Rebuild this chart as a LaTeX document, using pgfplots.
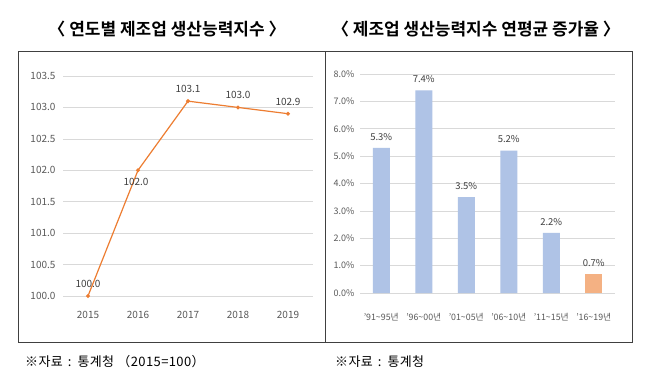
\documentclass[border=0pt]{standalone}
\usepackage{pgfplots}
\pgfplotsset{compat=1.18}
\usepackage{fontspec}
\setmainfont{Noto Sans CJK KR}
\newfontfamily\titlefont{Noto Sans CJK KR Bold}
\definecolor{lineor}{HTML}{ED7D31}
\definecolor{barblue}{HTML}{AFC3E6}
\definecolor{barorange}{HTML}{F4B183}
\definecolor{gridc}{HTML}{D9D9D9}
\definecolor{tickc}{HTML}{595959}
\definecolor{labc}{HTML}{404040}
\definecolor{framec}{HTML}{404040}
\begin{document}
\begin{tikzpicture}
\useasboundingbox (0pt,0pt) rectangle (647pt,380pt);
\fill[white] (0pt,0pt) rectangle (647pt,380pt);
% frames
\draw[framec, line width=1pt] (18pt,328pt) rectangle (325pt,38pt);
\draw[framec, line width=1pt] (325pt,328pt) rectangle (632pt,38pt);
% titles
\node[font=\titlefont\fontsize{17}{19}\selectfont, text=black] at (167pt,351pt) {〈 연도별 제조업 생산능력지수 〉};
\node[font=\titlefont\fontsize{17}{19}\selectfont, text=black] at (476pt,351pt) {〈 제조업 생산능력지수 연평균 증가율 〉};
% footnotes
\node[anchor=west, inner sep=0pt, font=\fontsize{13}{15}\selectfont\addfontfeature{LetterSpace=3}] at (25pt,18pt) {※자료\hspace{5pt}:\hspace{6pt}통계청 （2015=100）};
\node[anchor=west, inner sep=0pt, font=\fontsize{13}{15}\selectfont\addfontfeature{LetterSpace=3}] at (335pt,18pt) {※자료\hspace{5pt}:\hspace{6pt}통계청};
% left chart
\begin{axis}[
  at={(63pt,84pt)}, anchor=south west,
  scale only axis, width=250pt, height=220pt,
  xmin=2014.5, xmax=2019.5, ymin=100, ymax=103.5,
  axis line style={draw=none},
  ymajorgrids, grid style={gridc, line width=0.6pt},
  xtick={2015,2016,2017,2018,2019},
  ytick={100,100.5,...,103.5},
  tick style={draw=none},
  /pgf/number format/assume math mode=true,
  xticklabel style={/pgf/number format/1000 sep={}, font=\fontsize{10}{12}\selectfont, text=tickc, yshift=-12pt},
  yticklabel style={/pgf/number format/.cd, fixed, fixed zerofill, precision=1, /tikz/.cd, font=\fontsize{10}{12}\selectfont, text=tickc, xshift=-4pt},
  clip=false,
]
\addplot[lineor, line width=1.2pt, mark=*, mark size=1.3pt] coordinates {(2015,100.0)(2016,102.0)(2017,103.1)(2018,103.0)(2019,102.9)};
\addplot[draw=none, mark=none, nodes near coords={\pgfmathprintnumber[fixed,fixed zerofill,precision=1,assume math mode=true]{\pgfplotspointmeta}},
  nodes near coords style={font=\fontsize{10}{12}\selectfont, text=labc, anchor=south, yshift=5pt}]
  coordinates {(2015,100.0)(2017,103.1)(2018,103.0)(2019,102.9)};
\addplot[draw=none, mark=none, nodes near coords={\pgfmathprintnumber[fixed,fixed zerofill,precision=1,assume math mode=true]{\pgfplotspointmeta}},
  nodes near coords style={font=\fontsize{10}{12}\selectfont, text=labc, anchor=north, yshift=-4pt, xshift=-2pt}]
  coordinates {(2016,102.0)};
\end{axis}
% right chart
\begin{axis}[
  at={(360pt,87pt)}, anchor=south west,
  scale only axis, width=255pt, height=219pt,
  xmin=-0.5, xmax=5.5, ymin=0, ymax=8,
  ymajorgrids, grid style={gridc, line width=0.6pt},
  axis line style={draw=none},
  xtick={0,1,2,3,4,5},
  xticklabels={'91\textasciitilde95년,'96\textasciitilde00년,'01\textasciitilde05년,'06\textasciitilde10년,'11\textasciitilde15년,'16\textasciitilde19년},
  ytick={0,1,...,8},
  yticklabel={\pgfmathprintnumber[fixed,fixed zerofill,precision=1,assume math mode=true]{\tick}\%},
  xticklabel style={font=\fontsize{8.8}{11}\selectfont, text=tickc, yshift=-12pt},
  yticklabel style={font=\fontsize{9}{11}\selectfont, text=tickc, xshift=-2pt},
  tick style={draw=none},
  clip=false,
  ybar, bar width=17pt,
]
\addplot[fill=barblue, draw=none, bar shift=0pt,
  nodes near coords={\pgfmathprintnumber[fixed,fixed zerofill,precision=1,assume math mode=true]{\pgfplotspointmeta}\%},
  nodes near coords style={font=\fontsize{9.5}{11}\selectfont, text=labc, yshift=4pt}]
  coordinates {(0,5.3)(1,7.4)(2,3.5)(3,5.2)(4,2.2)};
\addplot[fill=barorange, draw=none, bar shift=0pt,
  nodes near coords={\pgfmathprintnumber[fixed,fixed zerofill,precision=1,assume math mode=true]{\pgfplotspointmeta}\%},
  nodes near coords style={font=\fontsize{9.5}{11}\selectfont, text=labc, yshift=4pt}]
  coordinates {(5,0.7)};
\end{axis}
\end{tikzpicture}
\end{document}
